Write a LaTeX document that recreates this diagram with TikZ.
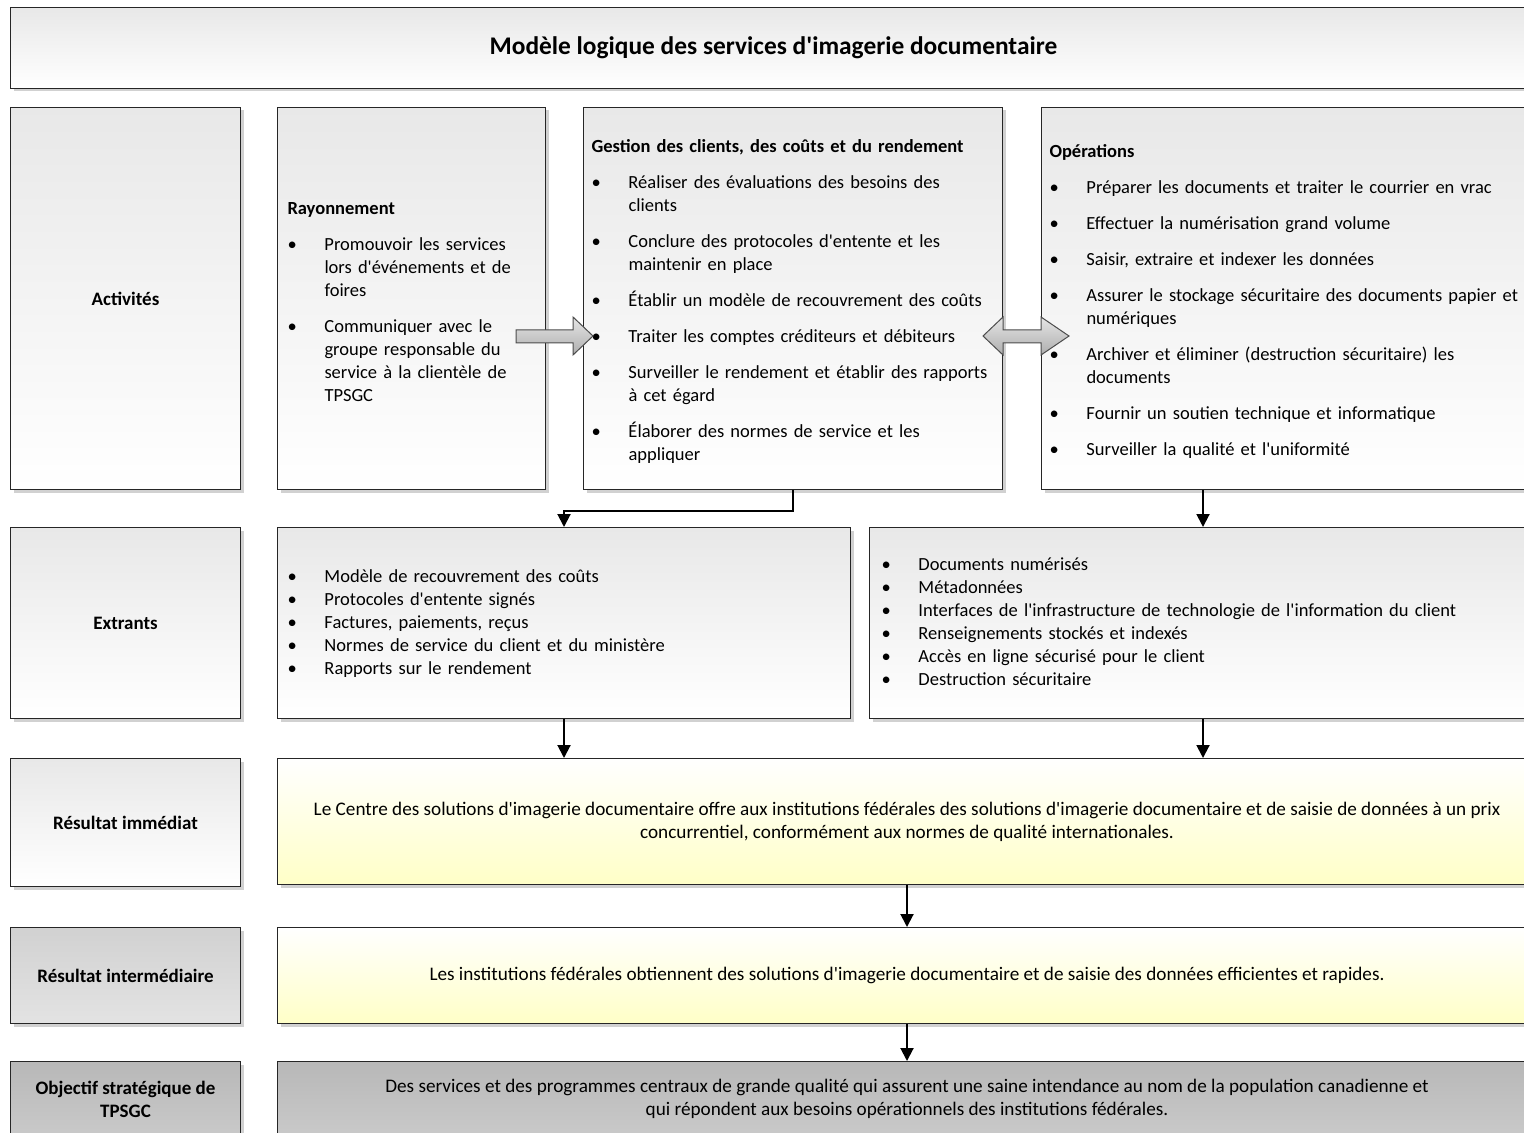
\documentclass[tikz,border=0pt]{standalone}
\usepackage{fontspec}
\setmainfont{Carlito}[Ligatures=TeXOff]
\usetikzlibrary{arrows.meta,shadows}

\newcommand{\puce}[1]{\par\noindent\hangindent=18.5pt\hangafter=1\makebox[18.5pt][l]{\textbullet}#1}
\newcommand{\titrebloc}[1]{\noindent\rule{0pt}{9.5pt}\textbf{#1}}

\tikzset{>={Triangle[length=6.5pt,width=6.5pt]}}
\tikzset{
    boite/.style={draw=black!85, line width=0.5pt, anchor=north west, inner sep=0pt,
        drop shadow={shadow xshift=1.5pt, shadow yshift=-1.5pt, fill=black!18, opacity=1},
        font=\fontsize{9.6}{11.5}\selectfont},
    grise/.style={boite, top color=black!9, bottom color=white},
    jaune/.style={boite, top color=white, bottom color=yellow!22},
    foncee/.style={boite, top color=black!18, bottom color=black!11},
    sombre/.style={boite, top color=black!28, bottom color=black!21},
    etiquette/.style={align=center, font=\fontsize{9.5}{11.5}\selectfont\bfseries},
    liste/.style={font=\fontsize{9.25}{11.5}\selectfont,
        execute at begin node={\setlength{\parskip}{#1}}},
    liste/.default=6.5pt,
    fleche/.style={->, line width=1pt},
    blocfleche/.style={draw=black!70, line width=0.5pt, top color=black!10, bottom color=black!32},
}

\begin{document}
\begin{tikzpicture}[x=0.5pt, y=-0.5pt]
    \useasboundingbox (0,0) rectangle (1524,1133);
    \clip (0,0) rectangle (1524,1133);

    % titre
    \node[grise, etiquette, font=\fontsize{12.7}{15}\selectfont\bfseries, minimum width=763pt, minimum height=40.5pt] (titre) at (10,7) {Modèle logique des services d'imagerie documentaire};

    % colonne de gauche
    \node[grise, etiquette, minimum width=115pt, minimum height=191pt] (etiqact) at (10,107) {Activités};
    \node[grise, etiquette, minimum width=115pt, minimum height=95.5pt] (etiqext) at (10,527) {Extrants};
    \node[grise, etiquette, minimum width=115pt, minimum height=64pt] (etiqimm) at (10,758) {Résultat immédiat};
    \node[foncee, etiquette, minimum width=115pt, minimum height=48pt] (etiqint) at (10,927) {Résultat intermédiaire};
    \node[sombre, etiquette, minimum width=115pt, minimum height=37.5pt] (etiqobj) at (10,1061) {Objectif stratégique de\\TPSGC};

    % activites
    \node[grise, liste, inner xsep=5pt, text width=124pt, minimum width=134pt, minimum height=191pt] (rayon) at (277,107) {%
        \titrebloc{Rayonnement}
        \puce{Promouvoir les services\newline lors d'événements et de\newline foires}
        \puce{Communiquer avec le\newline groupe responsable du\newline service à la clientèle de\newline TPSGC}\par};
    \node[grise, liste, inner xsep=4pt, text width=201.5pt, minimum width=209.5pt, minimum height=191pt] (gestion) at (583,107) {%
        \titrebloc{Gestion des clients, des coûts et du rendement}
        \puce{Réaliser des évaluations des besoins des\newline clients}
        \puce{Conclure des protocoles d'entente et les\newline maintenir en place}
        \puce{Établir un modèle de recouvrement des coûts}
        \puce{Traiter les comptes créditeurs et débiteurs}
        \puce{Surveiller le rendement et établir des rapports\newline à cet égard}
        \puce{Élaborer des normes de service et les\newline appliquer}\par};
    \node[grise, liste, inner xsep=4pt, text width=239.5pt, minimum width=247.5pt, minimum height=191pt] (operations) at (1041,107) {%
        \titrebloc{Opérations}
        \puce{Préparer les documents et traiter le courrier en vrac}
        \puce{Effectuer la numérisation grand volume}
        \puce{Saisir, extraire et indexer les données}
        \puce{Assurer le stockage sécuritaire des documents papier et\newline numériques}
        \puce{Archiver et éliminer (destruction sécuritaire) les\newline documents}
        \puce{Fournir un soutien technique et informatique}
        \puce{Surveiller la qualité et l'uniformité}\par};

    % extrants
    \node[grise, liste=0pt, inner xsep=5pt, text width=276.5pt, minimum width=286.5pt, minimum height=95.5pt] (extgauche) at (277,527) {%
        \puce{Modèle de recouvrement des coûts}
        \puce{Protocoles d'entente signés}
        \puce{Factures, paiements, reçus}
        \puce{Normes de service du client et du ministère}
        \puce{Rapports sur le rendement\rule[-6.5pt]{0pt}{6.5pt}}\par};
    \node[grise, liste=0pt, inner xsep=6pt, text width=321.5pt, minimum width=333.5pt, minimum height=95.5pt] (extdroite) at (869,527) {%
        \puce{Documents numérisés}
        \puce{Métadonnées}
        \puce{Interfaces de l'infrastructure de technologie de l'information du client}
        \puce{Renseignements stockés et indexés}
        \puce{Accès en ligne sécurisé pour le client}
        \puce{Destruction sécuritaire\rule[-6.5pt]{0pt}{6.5pt}}\par};

    % resultats
    \node[jaune, align=center, minimum width=629.5pt, minimum height=63pt] (immediat) at (277,758) {Le Centre des solutions d'imagerie documentaire offre aux institutions fédérales des solutions d'imagerie documentaire et de saisie de données à un prix\\concurrentiel, conformément aux normes de qualité internationales.};
    \node[jaune, align=center, minimum width=629.5pt, minimum height=48pt] (intermediaire) at (277,927) {Les institutions fédérales obtiennent des solutions d'imagerie documentaire et de saisie des données efficientes et rapides.};
    \node[sombre, align=center, minimum width=629.5pt, minimum height=37.5pt] (objectif) at (277,1061) {Des services et des programmes centraux de grande qualité qui assurent une saine intendance au nom de la population canadienne et\\qui répondent aux besoins opérationnels des institutions fédérales.};

    % fleches grises
    \shade[blocfleche] (516,330) -- (573,330) -- (573,317) -- (593,336) -- (573,355) -- (573,343) -- (516,343) -- cycle;
    \shade[blocfleche] (983,336) -- (1003,317) -- (1003,330) -- (1041,330) -- (1041,317) -- (1069,336) -- (1041,355) -- (1041,343) -- (1003,343) -- (1003,355) -- cycle;

    % liens
    \draw[fleche] (gestion.south) -- ++(0,21) -| (extgauche.north);
    \draw[fleche] (operations.south -| extdroite.north) -- (extdroite.north);
    \draw[fleche] (extgauche.south) -- (extgauche.south |- immediat.north);
    \draw[fleche] (extdroite.south) -- (extdroite.south |- immediat.north);
    \draw[fleche] (immediat.south) -- (intermediaire.north);
    \draw[fleche] (intermediaire.south) -- (objectif.north);
\end{tikzpicture}
\end{document}
